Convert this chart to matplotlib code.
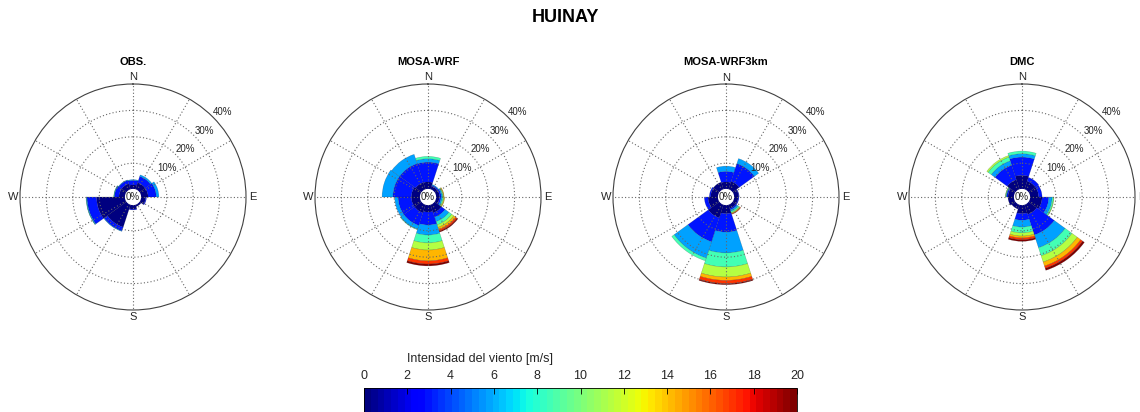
import matplotlib
matplotlib.use('Agg')
import matplotlib.pyplot as plt
import numpy as np
from matplotlib.colors import Normalize
from matplotlib.cm import ScalarMappable

plt.rcParams['font.family'] = ['Liberation Sans', 'DejaVu Sans']

# direction sectors (deg, clockwise from N) and wind speed classes (m/s, lower edge)
directions = [0, 36, 72, 108, 144, 180, 216, 252, 288, 324]
speed_bins = [0, 2.9, 5.7, 8.6, 11.4, 14.3, 17.1, 20]
titles = ['OBS.', 'MOSA-WRF', 'MOSA-WRF3km', 'DMC']

# frequency (%) per direction (rows) and speed class (columns)
obs = [
    [1.8, 1.7, 0.3, 0, 0, 0, 0, 0],
    [2.9, 2.5, 0.6, 0, 0, 0, 0, 0],
    [2.9, 3.1, 1.0, 0, 0, 0, 0, 0],
    [2.0, 0.3, 0, 0, 0, 0, 0, 0],
    [1.0, 0, 0, 0, 0, 0, 0, 0],
    [1.8, 0.3, 0, 0, 0, 0, 0, 0],
    [9.2, 1.5, 0.2, 0, 0, 0, 0, 0],
    [11.0, 3.6, 0.3, 0.1, 0, 0, 0, 0],
    [2.5, 1.7, 0.2, 0.1, 0, 0, 0, 0],
    [2.5, 1.3, 0.2, 0, 0, 0, 0, 0],
]
mosa_wrf = [
    [2.9, 7.5, 1.3, 0.9, 0, 0, 0, 0],
    [1.5, 0.4, 0.3, 0, 0, 0, 0, 0],
    [1.6, 0.6, 0.4, 0.3, 0.2, 0.2, 0, 0],
    [1.5, 0.6, 0.5, 0.4, 0.3, 0.2, 0, 0],
    [3.5, 1.7, 1.8, 1.3, 1.0, 0.9, 0.6, 0.4],
    [2.9, 4.9, 3.8, 3.0, 2.7, 4.1, 1.2, 0.7],
    [3.5, 5.0, 1.5, 0.2, 0, 0, 0, 0],
    [3.5, 5.0, 1.3, 0, 0, 0, 0, 0],
    [3.5, 7.0, 4.1, 0, 0, 0, 0, 0],
    [3.0, 7.5, 3.7, 0, 0, 0, 0, 0],
]
mosa_wrf3km = [
    [2.9, 4.0, 2.0, 0, 0, 0, 0, 0],
    [3.4, 7.1, 2.0, 0, 0, 0, 0, 0],
    [2.0, 0.2, 0, 0, 0, 0, 0, 0],
    [1.8, 0.3, 0, 0, 0, 0, 0, 0],
    [1.8, 0.5, 0.6, 0.5, 0.3, 0.2, 0.2, 0],
    [3.5, 7.0, 7.9, 5.3, 3.8, 1.3, 1.2, 0.4],
    [5.5, 9.5, 6.5, 1.1, 0, 0, 0, 0],
    [4.0, 1.4, 0, 0, 0, 0, 0, 0],
    [3.0, 0.5, 0, 0, 0, 0, 0, 0],
    [3.1, 0, 0, 0, 0, 0, 0, 0],
]
dmc = [
    [5.4, 6.9, 1.3, 1.0, 0, 0, 0, 0],
    [3.5, 1.5, 0, 0, 0, 0, 0, 0],
    [3.5, 1.3, 0, 0, 0, 0, 0, 0],
    [4.8, 2.5, 1.3, 0.5, 0.2, 0, 0, 0],
    [4.1, 8.2, 5.1, 3.2, 2.5, 1.6, 0.9, 0.8],
    [3.5, 2.5, 2.6, 2.2, 1.2, 0.7, 0.7, 0.6],
    [2.0, 0, 0, 0, 0, 0, 0, 0],
    [2.5, 0, 0, 0, 0, 0, 0, 0],
    [2.5, 0.5, 0.2, 0.2, 0.1, 0, 0, 0],
    [4.1, 5.7, 1.8, 1.5, 0.6, 0, 0, 0],
]
roses = [obs, mosa_wrf, mosa_wrf3km, dmc]

W, H = 1140, 412
R = 113                      # rose radius in pixels
centers_x = [133, 428, 726, 1022]
center_y = 197
off = 2.8                    # radial offset of the empty centre (in %)
rings = [10, 20, 30, 40]

cmap = plt.get_cmap('jet', 64)
norm = Normalize(0, 20)
bin_colors = [plt.get_cmap('jet')(norm(v)) for v in speed_bins]

fig = plt.figure(figsize=(W / 100, H / 100), dpi=100)

for cx, data, name in zip(centers_x, roses, titles):
    ax = fig.add_axes([(cx - R) / W, (H - center_y - R) / H, 2 * R / W, 2 * R / H],
                      projection='polar')
    ax.set_theta_zero_location('N')
    ax.set_theta_direction(-1)
    ax.set_ylim(0, off + 40)
    ax.set_xticks([])
    ax.set_yticks([])
    ax.grid(False)
    ax.spines['polar'].set_linewidth(0.8)
    ax.spines['polar'].set_color('0.25')

    for d, ang in enumerate(directions):
        bottom = off
        for b, val in enumerate(data[d]):
            if val <= 0:
                continue
            ax.bar(np.deg2rad(ang), val, width=np.deg2rad(36), bottom=bottom,
                   color=bin_colors[b], edgecolor=(0, 0, 0, 0.3), linewidth=0.3,
                   zorder=2)
            bottom += val

    th = np.linspace(0, 2 * np.pi, 361)
    for v in rings[:-1]:
        ax.plot(th, np.full_like(th, off + v), ls=(0, (1, 2)), color='0.4', lw=0.8, zorder=5)
    for a in range(0, 360, 30):
        ax.plot([np.deg2rad(a)] * 2, [off, off + 40], ls=(0, (1, 2)), color='0.4',
                lw=0.8, zorder=5)
    ax.fill(th, np.full_like(th, off), color='white', zorder=6)
    ax.text(0, 0, '0%', ha='center', va='center', fontsize=7, color='0.15', zorder=7)

    for v in rings:
        ax.text(np.deg2rad(45), off + v, f'{v}%', ha='left', va='bottom',
                fontsize=7, color='0.15', zorder=7)

    d_lab = 119.5 / (2 * R)
    for lab, (dx, dy) in zip('NESW', [(0, 1), (1, 0), (0, -1), (-1, 0)]):
        ax.text(0.5 + dx * d_lab, 0.5 + dy * d_lab, lab, transform=ax.transAxes,
                ha='center', va='center', fontsize=8, color='0.15')

    fig.text(cx / W, 1 - 62 / H, name, ha='center', va='center',
             fontsize=8, fontweight='bold')

fig.text(565 / W, 1 - 18 / H, 'HUINAY', ha='center', va='center',
         fontsize=13, fontweight='bold')

# colour bar at the bottom
cax = fig.add_axes([364 / W, (H - 422) / H, 433 / W, 34 / H])
sm = ScalarMappable(norm=norm, cmap=cmap)
cb = fig.colorbar(sm, cax=cax, orientation='horizontal')
cb.set_ticks(range(0, 21, 2))
cax.xaxis.set_ticks_position('top')
cax.xaxis.set_label_position('top')
cax.tick_params(axis='x', direction='in', length=4, width=0.6, labelsize=9, pad=4,
                labelcolor='0.15')
cb.outline.set_linewidth(0.6)
fig.text(480 / W, 1 - 359 / H, 'Intensidad del viento [m/s]', ha='center',
         va='center', fontsize=9, color='0.15')

fig.savefig('out.png', dpi=100)
